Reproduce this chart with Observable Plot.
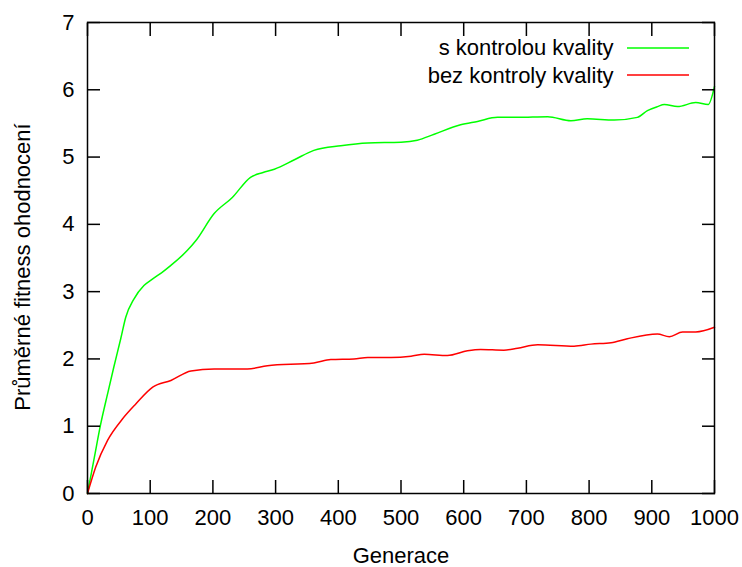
<!DOCTYPE html>
<html>
<head>
<meta charset="utf-8">
<script src="https://cdn.jsdelivr.net/npm/d3@7"></script>
<script src="https://cdn.jsdelivr.net/npm/@observablehq/plot@0.6"></script>
<style>
  html, body { margin: 0; padding: 0; background: #fff; }
  #chart svg { display: block; }
</style>
</head>
<body>
<div id="chart"></div>
<script>
// Series: "s kontrolou kvality" (green)
const greenGen = [0, 11, 21, 32, 42, 53, 61, 74, 90, 104, 118, 133, 159, 173, 202, 231, 260, 280, 298, 330, 361, 404, 447, 500, 526, 553, 595, 622, 654, 686, 734, 771, 797, 840, 877, 893, 909, 920, 941, 970, 990, 1000];
const greenVal = [0, 0.54, 1.03, 1.48, 1.88, 2.30, 2.62, 2.89, 3.09, 3.19, 3.28, 3.39, 3.61, 3.76, 4.16, 4.40, 4.70, 4.77, 4.82, 4.96, 5.10, 5.17, 5.21, 5.22, 5.25, 5.34, 5.48, 5.53, 5.59, 5.59, 5.60, 5.54, 5.57, 5.55, 5.59, 5.69, 5.75, 5.78, 5.75, 5.81, 5.78, 6.05];
// Series: "bez kontroly kvality" (red)
const redGen = [0, 13, 32, 56, 77, 104, 133, 165, 202, 255, 287, 361, 388, 425, 447, 484, 516, 537, 574, 606, 627, 664, 686, 718, 776, 803, 835, 861, 909, 928, 949, 970, 1000];
const redVal = [0, 0.39, 0.79, 1.11, 1.33, 1.58, 1.68, 1.82, 1.85, 1.85, 1.90, 1.94, 1.99, 2.00, 2.02, 2.02, 2.04, 2.07, 2.05, 2.12, 2.14, 2.13, 2.16, 2.21, 2.19, 2.22, 2.24, 2.30, 2.37, 2.33, 2.40, 2.40, 2.47];

const seriesNames = ["s kontrolou kvality", "bez kontroly kvality"];
const seriesColors = ["#00ff00", "#ff0000"];
const xTicks = [0, 100, 200, 300, 400, 500, 600, 700, 800, 900, 1000];
const yTicks = [0, 1, 2, 3, 4, 5, 6, 7];
const xTitle = "Generace";
const yTitle = "Průměrné fitness ohodnocení";

const green = greenGen.map((g, i) => ({gen: g, val: greenVal[i]}));
const red = redGen.map((g, i) => ({gen: g, val: redVal[i]}));

const FONT = "'Liberation Sans', Arial, sans-serif";
const fmt = d => String(d);

// legend sample line as a render-function mark, positioned relative to the frame
function legendLine(row, color) {
  return (index, scales, values, dims) => {
    const right = dims.width - dims.marginRight;
    const y = dims.marginTop + 26 + row * 27;
    const g = d3.create("svg:g");
    g.append("line")
      .attr("x1", right - 87).attr("x2", right - 25)
      .attr("y1", y).attr("y2", y)
      .attr("stroke", color).attr("stroke-width", 1.5);
    return g.node();
  };
}

const plot = Plot.plot({
  width: 742,
  height: 567,
  marginLeft: 87,
  marginRight: 28,
  marginTop: 22,
  marginBottom: 74,
  style: {fontFamily: FONT, fontSize: "22px", color: "#000", background: "#fff"},
  x: {domain: [0, 1000]},
  y: {domain: [0, 7]},
  marks: [
    Plot.lineY(green, {x: "gen", y: "val", stroke: seriesColors[0], strokeWidth: 1.5, curve: "monotone-x"}),
    Plot.lineY(red, {x: "gen", y: "val", stroke: seriesColors[1], strokeWidth: 1.5, curve: "monotone-x"}),
    Plot.axisX({ticks: xTicks, tickFormat: fmt, tickSize: 0, tickPadding: 16, label: null, fontSize: 22}),
    Plot.axisY({ticks: yTicks, tickFormat: fmt, tickSize: 0, tickPadding: 13, label: null, fontSize: 22}),
    Plot.axisX({ticks: xTicks, anchor: "bottom", tickSize: -13, text: null, label: null, strokeWidth: 1.5}),
    Plot.axisX({ticks: xTicks, anchor: "top", tickSize: -13, text: null, label: null, strokeWidth: 1.5}),
    Plot.axisY({ticks: yTicks, anchor: "left", tickSize: -13, text: null, label: null, strokeWidth: 1.5}),
    Plot.axisY({ticks: yTicks, anchor: "right", tickSize: -13, text: null, label: null, strokeWidth: 1.5}),
    Plot.frame({stroke: "#000", strokeWidth: 1.5}),
    Plot.text([xTitle], {text: d => d, frameAnchor: "bottom", lineAnchor: "middle", dy: 62, fontSize: 22, fill: "#000"}),
    Plot.text([yTitle], {text: d => d, frameAnchor: "left", textAnchor: "middle", lineAnchor: "middle", rotate: -90, dx: -65, dy: 9, fontSize: 22, fill: "#000"}),
    Plot.text([seriesNames[0]], {text: d => d, frameAnchor: "top-right", textAnchor: "end", lineAnchor: "middle", dx: -101, dy: 25, fontSize: 22, fill: "#000"}),
    Plot.text([seriesNames[1]], {text: d => d, frameAnchor: "top-right", textAnchor: "end", lineAnchor: "middle", dx: -101, dy: 53, fontSize: 22, fill: "#000"}),
    legendLine(0, seriesColors[0]),
    legendLine(1, seriesColors[1])
  ]
});
document.getElementById("chart").appendChild(plot);
</script>
</body>
</html>
